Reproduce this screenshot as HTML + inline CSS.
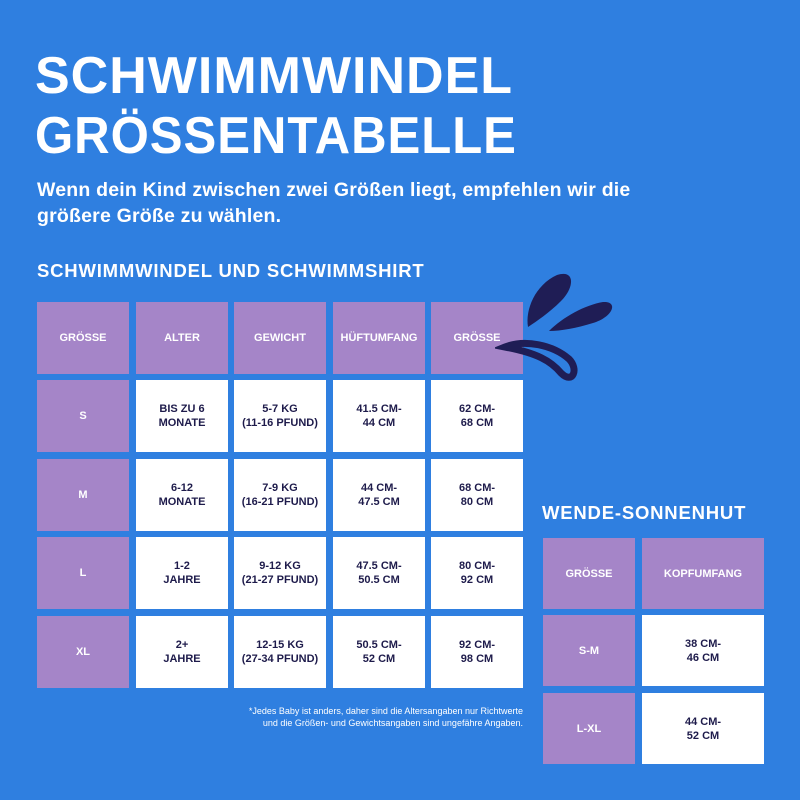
<!DOCTYPE html>
<html><head><meta charset="utf-8"><style>
*{margin:0;padding:0;box-sizing:border-box}
body{width:800px;height:800px;background:#2f7fe0;font-family:"Liberation Sans",sans-serif;position:relative;overflow:hidden;color:#fff}
.a{position:absolute;white-space:nowrap}
.t{font-weight:900;font-size:52px;left:35px;letter-spacing:1px;transform-origin:left top}
.c{position:absolute;display:flex;align-items:center;justify-content:center;text-align:center;font-weight:bold;font-size:11px;line-height:14px}
.p{background:#a585c8;color:#fff}
.w{background:#fff;color:#1e1b4b}
.h{font-size:18.5px;font-weight:bold;letter-spacing:0.8px}
</style></head><body>
<div class="a t" style="top:46px">SCHWIMMWINDEL</div>
<div class="a t" style="top:106px;transform:scaleX(0.945)">GRÖSSENTABELLE</div>
<div class="a" style="left:37px;top:177px;font-size:19.5px;font-weight:bold;line-height:26px;letter-spacing:0.2px">Wenn dein Kind zwischen zwei Größen liegt, empfehlen wir die<br>größere Größe zu wählen.</div>
<div class="a h" style="left:37px;top:260px">SCHWIMMWINDEL UND SCHWIMMSHIRT</div>
<div class="a h" style="left:542px;top:502px">WENDE-SONNENHUT</div>
<div id="g"></div>
<svg class="a" style="left:495px;top:265px" width="130" height="120" viewBox="0 0 130 120">
<path d="M33 62 C30 45 40 20 62 10 C80 4 80 22 66 36 C54 48 42 56 33 62Z" fill="#1f1d55"/>
<path d="M54 66 C68 52 90 40 108 37 C124 36 118 52 98 58 C82 63 66 66 54 66Z" fill="#1f1d55"/>
<path d="M10 82 C30 74 58 80 74 94 C84 104 78 120 66 108 C56 96 42 88 10 82Z" fill="none" stroke="#1f1d55" stroke-width="7" stroke-linecap="round"/>
</svg>
<div class="a" style="right:277px;top:705px;font-size:9px;line-height:12px;text-align:right">*Jedes Baby ist anders, daher sind die Altersangaben nur Richtwerte<br>und die Größen- und Gewichtsangaben sind ungefähre Angaben.</div>
<script>
var xs=[37,136,234,333,431],ys=[302,380,459,537,616],W=92,H=72;
var d=[["GRÖSSE","ALTER","GEWICHT","HÜFTUMFANG","GRÖSSE"],
["S","BIS ZU 6<br>MONATE","5-7 KG<br>(11-16 PFUND)","41.5 CM-<br>44 CM","62 CM-<br>68 CM"],
["M","6-12<br>MONATE","7-9 KG<br>(16-21 PFUND)","44 CM-<br>47.5 CM","68 CM-<br>80 CM"],
["L","1-2<br>JAHRE","9-12 KG<br>(21-27 PFUND)","47.5 CM-<br>50.5 CM","80 CM-<br>92 CM"],
["XL","2+<br>JAHRE","12-15 KG<br>(27-34 PFUND)","50.5 CM-<br>52 CM","92 CM-<br>98 CM"]];
var h="";
for(var r=0;r<5;r++)for(var c=0;c<5;c++){var p=(r==0||c==0);
h+='<div class="c '+(p?'p':'w')+'" style="left:'+xs[c]+'px;top:'+ys[r]+'px;width:'+W+'px;height:'+H+'px">'+d[r][c]+'</div>';}
var rx=[543,642],rw=[92,122],ry=[538,615,693],e=[["GRÖSSE","KOPFUMFANG"],["S-M","38 CM-<br>46 CM"],["L-XL","44 CM-<br>52 CM"]];
for(var r=0;r<3;r++)for(var c=0;c<2;c++){var p=(r==0||c==0);
h+='<div class="c '+(p?'p':'w')+'" style="left:'+rx[c]+'px;top:'+ry[r]+'px;width:'+rw[c]+'px;height:71px">'+e[r][c]+'</div>';}
document.getElementById('g').innerHTML=h;
</script>
</body></html>
